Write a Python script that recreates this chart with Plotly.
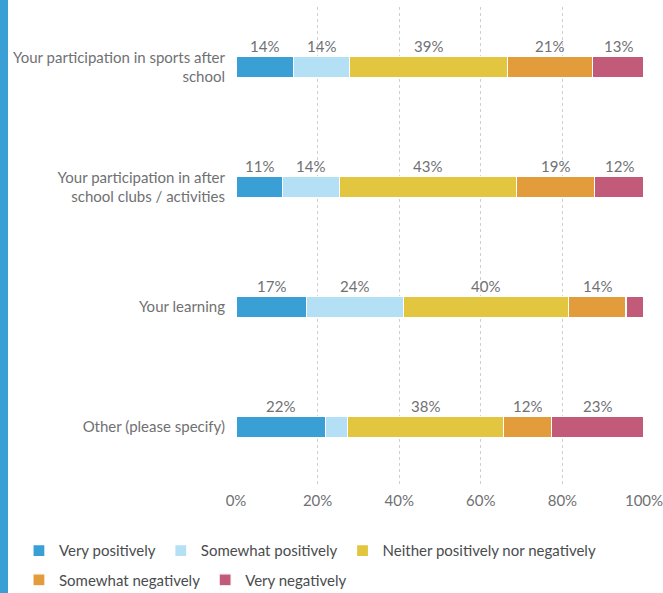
import plotly.graph_objects as go

# Survey items (top to bottom) and response shares in percent
items = [
    "Your participation in sports after<br>school",
    "Your participation in after<br>school clubs / activities",
    "Your learning",
    "Other (please specify)",
]
responses = [
    "Very positively",
    "Somewhat positively",
    "Neither positively nor negatively",
    "Somewhat negatively",
    "Very negatively",
]
very_pos = [14.0, 11.3, 17.2, 22.0]
somewhat_pos = [13.9, 14.0, 23.9, 5.4]
neither = [38.7, 43.4, 40.3, 38.1]
somewhat_neg = [20.7, 19.1, 14.2, 11.8]
very_neg = [12.7, 12.2, 4.4, 22.7]

series = [very_pos, somewhat_pos, neither, somewhat_neg, very_neg]
colors = ["#399fd4", "#b4e0f5", "#e3c640", "#e39c3c", "#c25b7a"]
legend_rows = ["legend", "legend", "legend", "legend2", "legend2"]

TEXT = "#6f7173"
FONT = "Lato"
MIN_LABEL = 6  # segments narrower than this get no value label

fig = go.Figure()
for name, vals, col, lg in zip(responses, series, colors, legend_rows):
    fig.add_trace(go.Bar(
        y=items, x=vals, name=name, orientation="h",
        marker=dict(color=col, line=dict(color="white", width=1.2)),
        width=0.17, hoverinfo="skip", legend=lg,
    ))

# Percentage labels centred above each segment
annotations = []
for i, item in enumerate(items):
    start = 0.0
    for vals in series:
        v = vals[i]
        if v >= MIN_LABEL:
            annotations.append(dict(
                x=start + v / 2, y=item, xref="x", yref="y",
                text=f"{v:.0f}%", showarrow=False, yshift=21,
                font=dict(family=FONT, size=15, color=TEXT),
            ))
        start += v

legend_style = dict(
    orientation="h", xanchor="left", yanchor="middle",
    traceorder="normal", bgcolor="rgba(0,0,0,0)",
    font=dict(family=FONT, size=15, color="#4a4c4e"),
    itemwidth=30, tracegroupgap=0,
)

fig.update_layout(
    barmode="stack",
    width=663, height=593,
    margin=dict(l=236, r=19, t=7, b=106, autoexpand=False),
    paper_bgcolor="white", plot_bgcolor="white",
    font=dict(family=FONT, size=15, color=TEXT),
    annotations=annotations,
    xaxis=dict(
        range=[0, 100], dtick=20, ticksuffix="%",
        showgrid=True, gridcolor="#cfcfcf", griddash="dot", gridwidth=1,
        zeroline=False, showline=False, fixedrange=True,
        tickfont=dict(family=FONT, size=15, color=TEXT),
        ticklabelstandoff=3, ticklabeloverflow="allow",
    ),
    yaxis=dict(
        categoryorder="array", categoryarray=items[::-1],
        showgrid=False, zeroline=False, showline=False,
        ticklabelstandoff=10,
        tickfont=dict(family=FONT, size=15, color=TEXT),
    ),
    legend=dict(x=-0.532, y=-0.133, **legend_style),
    legend2=dict(x=-0.532, y=-0.194, **legend_style),
    shapes=[dict(
        type="rect", xref="paper", yref="paper",
        x0=-236 / 408, x1=-228 / 408, y0=-106 / 480, y1=(480 + 7) / 480,
        fillcolor="#3a9fd4", line=dict(width=0), layer="above",
    )],
)

fig.write_html("out.html")
